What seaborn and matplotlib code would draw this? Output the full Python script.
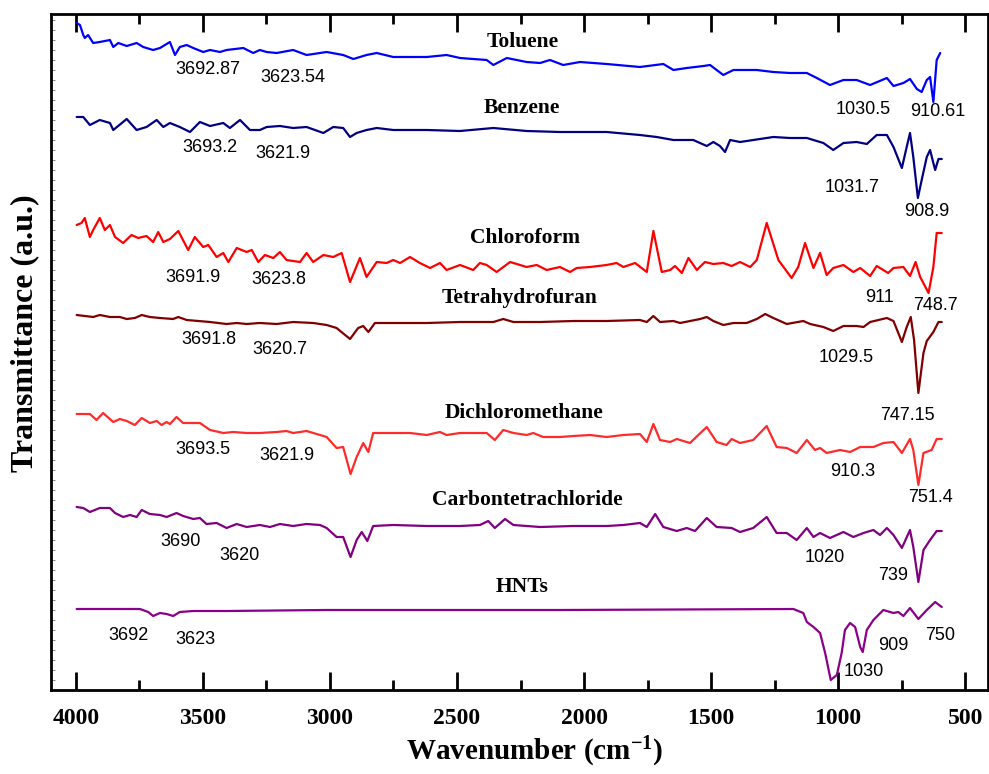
import pandas as pd
import matplotlib.pyplot as plt
import seaborn as sns
from matplotlib.ticker import MultipleLocator

# FTIR spectra, offset stack (transmittance in arbitrary units)

toluene_wn = [3997, 3984, 3971, 3965, 3952, 3932, 3906, 3866, 3853, 3833, 3800, 3761, 3735, 3696,
              3669, 3630, 3610, 3591, 3564, 3538, 3499, 3472, 3433, 3407, 3341, 3302, 3276, 3249,
              3210, 3145, 3092, 3013, 2948, 2908, 2856, 2816, 2751, 2619, 2541, 2488, 2383, 2357,
              2304, 2226, 2173, 2134, 2082, 2016, 1911, 1780, 1688, 1648, 1596, 1530, 1504, 1452,
              1412, 1320, 1255, 1189, 1123, 1084, 1032, 979, 927, 874, 808, 782, 743, 717, 690,
              671, 651, 638, 625, 612, 598]
toluene_t = [667, 665, 655, 652, 655, 647, 648, 650, 643, 647, 644, 647, 643, 640,
             642, 648, 635, 643, 645, 642, 638, 640, 638, 640, 642, 637, 640, 638,
             637, 640, 635, 638, 635, 631, 635, 637, 633, 633, 635, 632, 630, 625,
             632, 628, 627, 630, 625, 628, 626, 623, 626, 620, 622, 624, 625, 615,
             620, 620, 618, 617, 617, 612, 605, 610, 610, 605, 612, 604, 607, 611, 601,
             598, 610, 613, 588, 630, 637]

benzene_wn = [3997, 3971, 3945, 3906, 3866, 3853, 3800, 3761, 3722, 3682, 3656, 3630, 3591, 3551,
              3512, 3472, 3420, 3394, 3354, 3315, 3276, 3249, 3197, 3145, 3092, 3026, 2987, 2948,
              2921, 2895, 2856, 2816, 2751, 2619, 2488, 2357, 2226, 2095, 2042, 1911, 1780, 1714,
              1648, 1570, 1517, 1491, 1465, 1445, 1425, 1386, 1255, 1189, 1123, 1058, 1019, 979,
              927, 887, 848, 808, 782, 749, 730, 717, 704, 686, 671, 651, 638, 618, 605, 592]
benzene_t = [573, 573, 565, 570, 567, 560, 571, 560, 563, 570, 563, 567, 563, 558,
             568, 564, 567, 562, 570, 560, 560, 563, 564, 562, 563, 557, 563, 562,
             553, 557, 560, 562, 560, 560, 559, 562, 559, 558, 558, 558, 555, 553,
             550, 550, 544, 548, 544, 538, 550, 548, 553, 552, 552, 547, 540, 547,
             548, 546, 555, 555, 543, 522, 543, 557, 533, 492, 510, 533, 540, 520, 531, 531]

chloroform_wn = [3997, 3978, 3965, 3945, 3932, 3906, 3886, 3866, 3846, 3814, 3781, 3755, 3722, 3696,
                 3676, 3656, 3630, 3597, 3558, 3532, 3499, 3479, 3446, 3420, 3400, 3367, 3328, 3308,
                 3282, 3256, 3223, 3197, 3171, 3118, 3092, 3066, 3026, 2987, 2954, 2921, 2882, 2856,
                 2816, 2777, 2751, 2724, 2685, 2646, 2606, 2567, 2541, 2488, 2436, 2410, 2383, 2344,
                 2291, 2226, 2186, 2147, 2095, 2055, 2029, 1976, 1911, 1872, 1845, 1799, 1753, 1727,
                 1694, 1661, 1642, 1615, 1589, 1556, 1524, 1491, 1452, 1419, 1386, 1346, 1320, 1281,
                 1235, 1209, 1183, 1157, 1130, 1097, 1071, 1045, 1019, 979, 940, 913, 874, 848, 803,
                 782, 743, 717, 695, 677, 644, 625, 612, 592]
chloroform_t = [465, 467, 472, 453, 460, 472, 460, 465, 453, 447, 455, 452, 454, 448,
                458, 448, 451, 459, 440, 453, 443, 445, 433, 437, 428, 442, 438, 440,
                428, 435, 432, 438, 430, 428, 437, 428, 435, 433, 437, 408, 432, 413,
                428, 427, 430, 427, 433, 427, 422, 427, 420, 425, 420, 427, 425, 418,
                428, 423, 425, 420, 423, 418, 422, 423, 425, 427, 423, 427, 418, 459,
                418, 420, 424, 417, 432, 420, 428, 426, 427, 424, 428, 423, 430, 467,
                430, 421, 412, 423, 447, 422, 437, 415, 422, 425, 418, 422, 414, 424, 417,
                422, 423, 414, 428, 413, 397, 423, 457, 457]

thf_wn = [3997, 3932, 3906, 3866, 3827, 3800, 3768, 3741, 3709, 3669, 3617, 3597, 3564, 3472,
          3407, 3367, 3328, 3276, 3210, 3145, 3066, 3013, 2974, 2921, 2889, 2869, 2849, 2823,
          2751, 2619, 2488, 2357, 2318, 2278, 2173, 2042, 1911, 1780, 1753, 1727, 1701, 1648,
          1622, 1543, 1517, 1491, 1452, 1412, 1360, 1320, 1287, 1255, 1202, 1137, 1110, 1058,
          1019, 979, 927, 900, 874, 808, 782, 749, 730, 714, 701, 684, 664, 651, 625, 605, 592]
thf_t = [375, 373, 375, 373, 373, 371, 372, 375, 373, 372, 371, 373, 370, 368,
         366, 367, 366, 367, 366, 368, 367, 365, 362, 351, 362, 364, 358, 367,
         367, 367, 368, 368, 371, 368, 368, 369, 369, 370, 368, 374, 368, 369,
         367, 371, 373, 369, 365, 367, 367, 371, 376, 372, 366, 369, 366, 363,
         359, 364, 364, 363, 368, 372, 369, 348, 363, 373, 350, 297, 337, 349, 358, 368, 368]

dcm_wn = [3997, 3945, 3919, 3893, 3853, 3827, 3800, 3768, 3741, 3709, 3682, 3663, 3643, 3630,
          3604, 3578, 3512, 3472, 3420, 3381, 3328, 3276, 3210, 3171, 3145, 3092, 3039, 3013,
          2974, 2948, 2919, 2895, 2869, 2849, 2830, 2751, 2685, 2619, 2567, 2541, 2488, 2383,
          2351, 2318, 2278, 2226, 2200, 2161, 2095, 2042, 1976, 1911, 1845, 1780, 1753, 1727,
          1701, 1661, 1635, 1583, 1517, 1478, 1439, 1419, 1386, 1334, 1281, 1242, 1202, 1163,
          1123, 1091, 1071, 1045, 992, 953, 913, 861, 822, 782, 749, 717, 704, 684, 664, 632,
          612, 592]
dcm_t = [276, 276, 270, 277, 268, 271, 269, 265, 272, 267, 269, 265, 268, 266,
         273, 267, 267, 260, 257, 258, 257, 257, 258, 259, 257, 259, 255, 253,
         242, 243, 216, 233, 247, 238, 257, 257, 257, 255, 258, 255, 257, 257,
         250, 260, 257, 255, 257, 253, 253, 254, 255, 253, 255, 256, 248, 266,
         250, 248, 251, 247, 263, 248, 245, 251, 247, 250, 264, 243, 242, 237,
         250, 240, 242, 237, 240, 238, 243, 243, 247, 248, 237, 251, 240, 205, 237, 240,
         251, 251]

ccl4_wn = [3997, 3971, 3945, 3906, 3866, 3846, 3814, 3787, 3761, 3741, 3709, 3669, 3643, 3604,
           3578, 3538, 3512, 3486, 3446, 3407, 3367, 3328, 3276, 3236, 3197, 3145, 3092, 3039,
           3013, 2974, 2948, 2919, 2895, 2875, 2853, 2830, 2751, 2619, 2488, 2410, 2377, 2351,
           2311, 2278, 2226, 2173, 2042, 1911, 1845, 1780, 1753, 1720, 1688, 1635, 1596, 1563,
           1517, 1478, 1419, 1386, 1334, 1281, 1242, 1202, 1163, 1123, 1097, 1071, 1032, 979,
           940, 900, 861, 835, 808, 782, 749, 717, 704, 684, 664, 638, 612, 592]
ccl4_t = [183, 182, 178, 182, 182, 177, 173, 175, 173, 180, 176, 175, 173, 177,
          174, 171, 172, 166, 167, 162, 166, 163, 165, 163, 166, 164, 166, 165,
          162, 153, 153, 133, 150, 158, 149, 164, 165, 164, 164, 165, 169, 162,
          171, 165, 164, 163, 164, 164, 165, 167, 163, 176, 163, 159, 162, 159,
          172, 163, 162, 158, 162, 173, 157, 157, 150, 162, 153, 157, 152, 158,
          153, 157, 160, 155, 162, 155, 142, 160, 143, 108, 140, 150, 159, 159]

hnts_wn = [3997, 3748, 3715, 3696, 3669, 3643, 3617, 3591, 3538, 3407, 3013, 2095, 1176, 1137,
           1123, 1097, 1071, 1051, 1029, 1005, 986, 973, 953, 933, 913, 903, 887, 861, 822,
           782, 763, 743, 717, 684, 651, 618, 592]
hnts_t = [81, 81, 78, 74, 77, 76, 74, 78, 79, 79, 80, 80, 81, 77,
          68, 63, 57, 37, 10, 15, 37, 60, 67, 63, 43, 38, 60, 70, 80,
          77, 78, 74, 82, 71, 80, 88, 83]

samples = ["Toluene", "Benzene", "Chloroform", "Tetrahydrofuran",
           "Dichloromethane", "Carbontetrachloride", "HNTs"]
colors = ["#0000FF", "#000080", "#FF0000", "#800000", "#FF2A2A", "#800080", "#8B008B"]

# sample name labels: (wavenumber, height)
name_wn = [2240, 2244, 2232, 2252, 2236, 2224, 2244]
name_t = [648, 582, 452, 392, 277, 190, 103]

# peak annotations
peak_text = ["3692.87", "3623.54", "1030.5", "910.61",
             "3693.2", "3621.9", "1031.7", "908.9",
             "3691.9", "3623.8", "911", "748.7",
             "3691.8", "3620.7", "1029.5", "747.15",
             "3693.5", "3621.9", "910.3", "751.4",
             "3690", "3620", "1020", "739",
             "3692", "3623", "1030", "909", "750"]
peak_wn = [3480, 3146, 902, 606,
           3472, 3185, 945, 650,
           3541, 3200, 839, 618,
           3476, 3197, 968, 727,
           3500, 3171, 941, 638,
           3590, 3358, 1051, 783,
           3795, 3531, 898, 783, 598]
peak_t = [620, 613, 580, 578,
          543, 537, 503, 478,
          413, 410, 393, 384,
          351, 341, 332, 275,
          241, 234, 219, 192,
          148, 134, 132, 115,
          54, 50, 18, 44, 55]

frames = []
for name, wn, t in [("Toluene", toluene_wn, toluene_t), ("Benzene", benzene_wn, benzene_t),
                    ("Chloroform", chloroform_wn, chloroform_t),
                    ("Tetrahydrofuran", thf_wn, thf_t),
                    ("Dichloromethane", dcm_wn, dcm_t),
                    ("Carbontetrachloride", ccl4_wn, ccl4_t), ("HNTs", hnts_wn, hnts_t)]:
    frames.append(pd.DataFrame({"wavenumber": wn, "transmittance": t, "sample": name}))
df = pd.concat(frames, ignore_index=True)

sns.set_style("white")
plt.rcParams["font.family"] = ["Liberation Serif", "DejaVu Serif"]
plt.rcParams["mathtext.fontset"] = "custom"
plt.rcParams["mathtext.rm"] = "Liberation Serif:bold"
plt.rcParams["mathtext.default"] = "rm"
plt.rcParams["text.color"] = "black"
plt.rcParams["axes.labelcolor"] = "black"
plt.rcParams["xtick.color"] = "black"

fig = plt.figure(figsize=(9.89, 7.74), dpi=100)
ax = fig.add_axes([51 / 989, 1 - 690 / 774, 937 / 989, 676 / 774])

sns.lineplot(data=df, x="wavenumber", y="transmittance", hue="sample",
             hue_order=samples, palette=colors, linewidth=1.6, legend=False, ax=ax)

for s, x, y in zip(samples, name_wn, name_t):
    ax.text(x, y, s, ha="center", va="center", fontsize=15.5, fontweight="bold",
            family="Liberation Serif", color="black")
for s, x, y in zip(peak_text, peak_wn, peak_t):
    ax.text(x, y, s, ha="center", va="center", fontsize=13, family="Liberation Sans",
            color="black")

ax.set_xlim(4098, 410)
ax.set_ylim(0, 676)
ax.xaxis.set_major_locator(MultipleLocator(500))
ax.xaxis.set_minor_locator(MultipleLocator(250))
ax.yaxis.set_minor_locator(MultipleLocator(10))
ax.set_yticks([])
ax.tick_params(axis="x", which="major", direction="in", length=13, width=2,
               top=True, bottom=True, labelsize=17, pad=13, colors="black")
ax.tick_params(axis="x", which="minor", direction="in", length=7, width=2,
               top=True, bottom=True, colors="black")
ax.tick_params(axis="y", which="minor", direction="in", length=3, width=0.6,
               left=True, colors="#777777")
for lbl in ax.get_xticklabels():
    lbl.set_fontweight("bold")
for sp in ax.spines.values():
    sp.set_linewidth(2)
    sp.set_color("black")

ax.set_xlabel(r"Wavenumber (cm$^{-1}$)", fontsize=21, fontweight="bold", color="black")
ax.set_ylabel("Transmittance (a.u.)", fontsize=23, fontweight="bold", color="black")
ax.xaxis.set_label_coords(0.5165, -0.066)
ax.yaxis.set_label_coords(-0.013, 0.528)

fig.savefig("out.png", dpi=100)
